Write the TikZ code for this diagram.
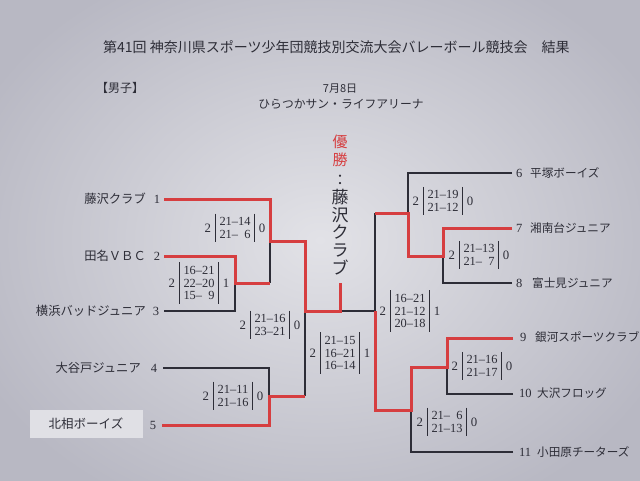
\documentclass[tikz,border=0pt]{standalone}
\usepackage{fontspec}
\setmainfont{Liberation Serif}
\newfontfamily\jp{Noto Sans CJK JP}
\definecolor{paperlight}{RGB}{226,226,231}
\definecolor{paperdark}{RGB}{184,184,195}
\definecolor{ink}{RGB}{45,45,55}
\definecolor{winred}{RGB}{214,62,64}
\definecolor{labelwhite}{RGB}{224,224,229}
\newcommand\scoreblk[6]{%
  \node[scoretxt] (#1) at (#2,#3) {#5};
  \draw[scorebar] ([xshift=-4pt,yshift=3.5pt]#1.north west) -- ([xshift=-4pt,yshift=-3.5pt]#1.south west);
  \draw[scorebar] ([xshift=4pt,yshift=3.5pt]#1.north east) -- ([xshift=4pt,yshift=-3.5pt]#1.south east);
  \node[scorenum,anchor=east] (#1-l) at ([xshift=-8pt]#1.west) {#4};
  \node[scorenum,anchor=west] (#1-r) at ([xshift=8pt]#1.east) {#6};
}
\newcommand\hz{\hphantom{0}}
\begin{document}
\begin{tikzpicture}[x=1pt,y=-1pt,
  every node/.style={text=ink},
  tname/.style={font=\jp\fontsize{12.3}{14}\selectfont,inner sep=0pt},
  rname/.style={font=\jp\fontsize{11.6}{14}\selectfont,inner sep=0pt,anchor=west},
  tnum/.style={font=\fontsize{12.5}{14}\selectfont,inner sep=0pt},
  scoretxt/.style={font=\fontsize{12.4}{12.8}\selectfont,align=center,inner sep=0pt},
  scorenum/.style={font=\fontsize{12.8}{14}\selectfont,inner sep=0pt},
  scorebar/.style={draw=ink,line width=1.4pt},
  loseline/.style={draw=ink,line width=1.4pt,line join=miter},
  winline/.style={draw=winred,line width=3pt,line join=miter},
  labelbox/.style={fill=labelwhite,minimum width=113pt,minimum height=28pt,inner sep=0pt,font=\jp\fontsize{12.5}{14}\selectfont}
]
\useasboundingbox (0,0) rectangle (640,480);
\shade[inner color=paperlight,outer color=paperdark] (-60,-60) rectangle (700,540);

% header
\node[font=\jp\fontsize{14}{16}\selectfont,inner sep=0pt,anchor=west] (title) at (103,47) {第41回 神奈川県スポーツ少年団競技別交流大会バレーボール競技会　結果};
\node[font=\jp\fontsize{12}{14}\selectfont,inner sep=0pt] (sex) at (120,88) {【男子】};
\node[font=\jp\fontsize{11}{13}\selectfont,inner sep=0pt] (date) at (340,89) {7月8日};
\node[font=\jp\fontsize{11.8}{14}\selectfont,inner sep=0pt] (venue) at (341,104) {ひらつかサン・ライフアリーナ};

% champion
\node[font=\jp\fontsize{15}{18}\selectfont,align=center,inner sep=0pt,text=winred] (yusho) at (340,151) {優\\勝};
\node[font=\jp\fontsize{15}{18}\selectfont,inner sep=0pt] (colon) at (340,180) {：};
\node[font=\jp\fontsize{17}{17.6}\selectfont,align=center,inner sep=0pt] (champ) at (340,232) {藤\\沢\\ク\\ラ\\ブ};

% left teams
\node[tnum] (n1) at (157,199) {1};
\node[tname,anchor=east] (name1) at (146,199) {藤沢クラブ};
\node[tnum] (n2) at (157,256) {2};
\node[tname,anchor=east] (name2) at (146,256) {田名ＶＢＣ};
\node[tnum] (n3) at (156,311) {3};
\node[tname,anchor=east] (name3) at (146,311) {横浜バッドジュニア};
\node[tnum] (n4) at (154,368) {4};
\node[tname,anchor=east] (name4) at (141,368) {大谷戸ジュニア};
\node[labelbox] (name5) at (86,424) {北相ボーイズ};
\node[tnum] (n5) at (153,425) {5};

% right teams
\node[tnum,anchor=west] (n6) at (516,173) {6};
\node[rname] (name6) at (530,173) {平塚ボーイズ};
\node[tnum,anchor=west] (n7) at (516,228) {7};
\node[rname] (name7) at (530,228) {湘南台ジュニア};
\node[tnum,anchor=west] (n8) at (516,283) {8};
\node[rname] (name8) at (532,283) {富士見ジュニア};
\node[tnum,anchor=west] (n9) at (520,337) {9};
\node[rname] (name9) at (535,337) {銀河スポーツクラブ};
\node[tnum,anchor=west] (n10) at (519,393) {10};
\node[rname] (name10) at (537,393) {大沢フロッグ};
\node[tnum,anchor=west] (n11) at (519,452) {11};
\node[rname] (name11) at (537,452) {小田原チーターズ};

% line ends and junctions
\coordinate (e1) at (164,199);
\coordinate (e2) at (164,256);
\coordinate (e3) at (164,311);
\coordinate (e4) at (163,368);
\coordinate (e5) at (162,425);
\coordinate (e6) at (512,173);
\coordinate (e7) at (512,228);
\coordinate (e8) at (512,283);
\coordinate (e9) at (513,338);
\coordinate (e10) at (513,394);
\coordinate (e11) at (513,452);
\coordinate (jA) at (235,283);
\coordinate (jB) at (270,241);
\coordinate (jC) at (269,396);
\coordinate (jL) at (305,311);
\coordinate (jF) at (340,311);
\coordinate (jW) at (340,283);
\coordinate (jR) at (375,311);
\coordinate (jD) at (408,213);
\coordinate (jE) at (443,256);
\coordinate (jG) at (447,367);
\coordinate (jH) at (411,410);

% losing lines
\draw[loseline] (e3) -| (jA);
\draw[loseline] (jA -| jB) -- (jB);
\draw[loseline] (e4) -| (jC);
\draw[loseline] (jL) -- (jC -| jL);
\draw[loseline] (jF) -- (jR);
\draw[loseline] (e6) -| (jD);
\draw[loseline] (e8) -| (jE);
\draw[loseline] (jD -| jR) -- (jR);
\draw[loseline] (e10) -| (jG);
\draw[loseline] (e11) -| (jH);

% winning lines
\draw[winline] (e1) -| (jB) -- (jB -| jL) -- (jL) -- (jF) -- (jW);
\draw[winline] (e2) -| (jA) -- (jA -| jB);
\draw[winline] (e5) -| (jC) -- (jC -| jL);
\draw[winline] (e7) -| (jE) -- (jE -| jD) -- (jD) -- (jD -| jR);
\draw[winline] (e9) -| (jG) -- (jG -| jH) -- (jH) -- (jH -| jR) -- (jR);

% scores
\scoreblk{s23}{199}{283}{2}{16--21\\22--20\\15--\hz9}{1}
\scoreblk{s1}{235}{228}{2}{21--14\\21--\hz6}{0}
\scoreblk{s45}{233}{396}{2}{21--11\\21--16}{0}
\scoreblk{sL}{270}{325}{2}{21--16\\23--21}{0}
\scoreblk{sF}{340}{353}{2}{21--15\\16--21\\16--14}{1}
\scoreblk{sR}{410}{311}{2}{16--21\\21--12\\20--18}{1}
\scoreblk{s6}{443}{201}{2}{21--19\\21--12}{0}
\scoreblk{s78}{479}{255}{2}{21--13\\21--\hz7}{0}
\scoreblk{s910}{482}{366}{2}{21--16\\21--17}{0}
\scoreblk{s11}{447}{422}{2}{21--\hz6\\21--13}{0}
\end{tikzpicture}
\end{document}
